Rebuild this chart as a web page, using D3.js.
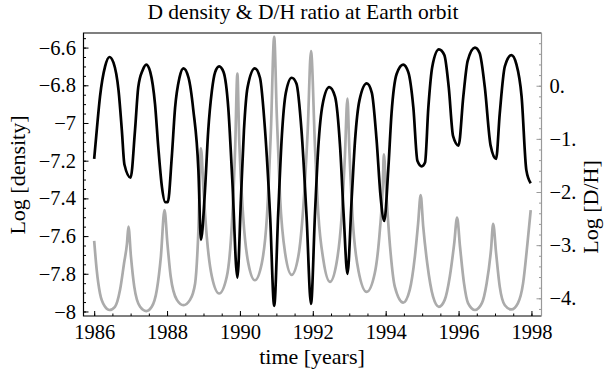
<!DOCTYPE html>
<html lang="en">
  <head>
    <meta charset="utf-8">
    <title>D density & D/H ratio</title>
    <script type="text/javascript" src="https://cdn.jsdelivr.net/npm/d3@7"></script>
    <style>
      body { margin: 0; background: #fff; }
      text { font-family: "Liberation Serif", "Times New Roman", serif; fill: #000; }
    </style>
  </head>
  <body>
    <script type="text/javascript">
    // values

    // black line: log D density vs time
    var densTime = [1986.00, 1986.07, 1986.16, 1986.30, 1986.42, 1986.53, 1986.67, 1986.76, 1986.83, 1987.00,
      1987.12, 1987.21, 1987.33, 1987.43, 1987.54, 1987.67, 1987.76, 1987.86, 1987.95, 1988.02,
      1988.13, 1988.22, 1988.34, 1988.45, 1988.59, 1988.72, 1988.86, 1988.93, 1989.04, 1989.13,
      1989.23, 1989.32, 1989.43, 1989.55, 1989.68, 1989.79, 1989.93, 1990.03, 1990.11, 1990.21,
      1990.41, 1990.55, 1990.69, 1990.83, 1990.94, 1991.05, 1991.15, 1991.26, 1991.42, 1991.55,
      1991.69, 1991.83, 1991.95, 1992.06, 1992.15, 1992.27, 1992.45, 1992.61, 1992.75, 1992.85,
      1992.95, 1993.07, 1993.16, 1993.28, 1993.48, 1993.62, 1993.75, 1993.86, 1993.96, 1994.07,
      1994.16, 1994.30, 1994.48, 1994.62, 1994.76, 1994.87, 1994.99, 1995.08, 1995.17, 1995.28,
      1995.46, 1995.61, 1995.73, 1995.85, 1996.00, 1996.13, 1996.25, 1996.45, 1996.58, 1996.72,
      1996.88, 1997.03, 1997.13, 1997.27, 1997.45, 1997.59, 1997.73, 1997.86, 1997.98];
    var densValue = [-7.19, -7.04, -6.86, -6.70, -6.65, -6.68, -6.83, -7.04, -7.22, -7.29,
      -7.04, -6.81, -6.72, -6.69, -6.73, -6.90, -7.13, -7.34, -7.42, -7.42,
      -7.18, -6.92, -6.76, -6.71, -6.76, -6.93, -7.25, -7.62, -7.36, -7.04,
      -6.83, -6.73, -6.70, -6.73, -6.92, -7.30, -7.82, -7.39, -7.04, -6.81,
      -6.71, -6.76, -7.04, -7.50, -7.97, -7.48, -7.07, -6.84, -6.76, -6.79,
      -7.04, -7.50, -7.96, -7.48, -7.13, -6.90, -6.81, -6.86, -7.13, -7.50,
      -7.80, -7.39, -7.09, -6.88, -6.79, -6.84, -7.09, -7.39, -7.52, -7.25,
      -6.95, -6.74, -6.69, -6.73, -6.92, -7.20, -7.23, -7.21, -6.92, -6.70,
      -6.61, -6.64, -6.81, -7.07, -7.12, -6.86, -6.67, -6.60, -6.63, -6.81,
      -7.12, -7.19, -6.95, -6.70, -6.64, -6.69, -6.86, -7.25, -7.32];

    // grey line: log D/H ratio vs time (right axis)
    var ratioTime = [1986.00, 1986.07, 1986.16, 1986.30, 1986.42, 1986.57, 1986.71, 1986.82, 1986.90, 1986.94,
      1987.01, 1987.10, 1987.26, 1987.43, 1987.58, 1987.72, 1987.83, 1987.93, 1988.01, 1988.10,
      1988.27, 1988.45, 1988.63, 1988.77, 1988.86, 1988.93, 1989.00, 1989.09, 1989.23, 1989.43,
      1989.64, 1989.78, 1989.87, 1989.93, 1989.98, 1990.09, 1990.23, 1990.41, 1990.60, 1990.74,
      1990.85, 1990.94, 1991.01, 1991.10, 1991.24, 1991.42, 1991.60, 1991.74, 1991.86, 1991.95,
      1992.06, 1992.15, 1992.29, 1992.47, 1992.65, 1992.79, 1992.88, 1992.95, 1993.00, 1993.09,
      1993.25, 1993.48, 1993.70, 1993.84, 1993.92, 1993.95, 1994.01, 1994.12, 1994.25, 1994.48,
      1994.66, 1994.80, 1994.89, 1994.96, 1995.03, 1995.14, 1995.30, 1995.46, 1995.62, 1995.76,
      1995.88, 1995.96, 1996.04, 1996.15, 1996.26, 1996.45, 1996.64, 1996.77, 1996.89, 1996.95,
      1997.03, 1997.13, 1997.27, 1997.45, 1997.63, 1997.77, 1997.89, 1997.98];
    var ratioValue = [-2.92, -3.47, -3.91, -4.16, -4.22, -4.16, -3.84, -3.34, -2.97, -2.65,
      -3.22, -3.78, -4.16, -4.24, -4.16, -3.84, -3.22, -2.34, -2.97, -3.59,
      -4.03, -4.13, -4.03, -3.72, -2.72, -1.18, -1.96, -2.84, -3.59, -3.91,
      -3.59, -2.59, -1.15, 0.23, -1.02, -2.47, -3.34, -3.66, -3.34, -2.47,
      -0.84, 0.92, -0.52, -2.09, -3.15, -3.56, -3.22, -2.28, -0.84, 0.65,
      -1.15, -2.40, -3.28, -3.69, -3.34, -2.47, -1.34, -0.24, -1.15, -2.47,
      -3.47, -3.88, -3.53, -2.72, -1.90, -1.29, -1.96, -3.03, -3.78, -4.08,
      -3.84, -3.22, -2.59, -2.06, -2.65, -3.34, -3.97, -4.16, -4.03, -3.59,
      -2.97, -2.48, -3.03, -3.72, -4.09, -4.22, -4.09, -3.72, -3.09, -2.60,
      -3.15, -3.78, -4.13, -4.21, -4.09, -3.72, -2.97, -2.34];

    // ticks
    var yearTicks = [1986, 1988, 1990, 1992, 1994, 1996, 1998];
    var densTicks = [-8, -7.8, -7.6, -7.4, -7.2, -7, -6.8, -6.6];
    var ratioTicks = [-4, -3, -2, -1, 0];

    var titleText = "D density & D/H ratio at Earth orbit";
    var xLabel = "time [years]";
    var yLabel = "Log [density]";
    var y2Label = "Log [D/H]";

    var w = 605;
    var h = 374;
    var padLeft = 83.5, padRight = 541.5, padTop = 33, padBottom = 316;

    var svg = d3.select("body")
                .append("svg")
                .attr("width", w)
                .attr("height", h);

    var x = d3.scaleLinear().domain([1985.707, 1998.276]).range([padLeft, padRight]);
    var y = d3.scaleLinear().domain([-8.024, -6.5226]).range([padBottom, padTop]);
    var y2 = d3.scaleLinear().domain([-4.333, 0.992]).range([padBottom, padTop]);

    // minor tick values (every half year, every 0.05 and every 0.2)
    var halfYears = d3.range(1986, 1998.01, 0.5);
    var densMinor = d3.range(-8, -6.52, 0.05).map(function(d) { return +d.toFixed(2); });
    var ratioMinor = d3.range(-4.2, 0.9, 0.2).map(function(d) { return +d.toFixed(1); });

    var fmtDens = function(d) {
      var s = (Math.round(d * 10) / 10).toString();
      return s.replace("-", "\u2212");
    };
    var fmtRatio = function(d) {
      return (d < 0 ? "\u2212" + (-d) : d) + ".";
    };

    // axes
    var styleAxis = function(g, colour) {
      g.select(".domain").remove();
      g.selectAll(".tick line").attr("stroke", colour);
      g.selectAll(".tick text").attr("font-size", 20.5).attr("fill", "#000");
    };

    svg.append("g").attr("transform", "translate(0," + padBottom + ")")
       .call(d3.axisBottom(x).tickValues(halfYears).tickSize(-2.5).tickFormat(""))
       .call(styleAxis, "#000");
    svg.append("g").attr("transform", "translate(0," + padBottom + ")")
       .call(d3.axisBottom(x).tickValues(yearTicks).tickSize(-5).tickPadding(8).tickFormat(d3.format("d")))
       .call(styleAxis, "#000");

    svg.append("g").attr("transform", "translate(" + padLeft + ",0)")
       .call(d3.axisLeft(y).tickValues(densMinor).tickSize(-2.5).tickFormat(""))
       .call(styleAxis, "#000");
    svg.append("g").attr("transform", "translate(" + padLeft + ",0)")
       .call(d3.axisLeft(y).tickValues(densTicks).tickSize(-5).tickPadding(7.5).tickFormat(fmtDens))
       .call(styleAxis, "#000");

    svg.append("g").attr("transform", "translate(" + padRight + ",0)")
       .call(d3.axisRight(y2).tickValues(ratioMinor).tickSize(-2.5).tickFormat(""))
       .call(styleAxis, "#999");
    svg.append("g").attr("transform", "translate(" + padRight + ",0)")
       .call(d3.axisRight(y2).tickValues(ratioTicks).tickSize(-5).tickPadding(8).tickFormat(fmtRatio))
       .call(styleAxis, "#999");

    // frame
    svg.append("path")
       .attr("d", "M" + padRight + "," + padTop + "H" + padLeft + "V" + padBottom + "H" + padRight)
       .attr("fill", "none").attr("stroke", "#000").attr("stroke-width", 1.2);
    svg.append("line")
       .attr("x1", padRight).attr("x2", padRight).attr("y1", padTop).attr("y2", padBottom)
       .attr("stroke", "#999").attr("stroke-width", 1.2);

    // lines
    var ratioLine = d3.line()
      .x(function(d, i) { return x(ratioTime[i]); })
      .y(function(d) { return y2(d); })
      .curve(d3.curveMonotoneX);
    var densLine = d3.line()
      .x(function(d, i) { return x(densTime[i]); })
      .y(function(d) { return y(d); })
      .curve(d3.curveMonotoneX);

    svg.append("path").datum(ratioValue)
       .attr("d", ratioLine)
       .attr("fill", "none").attr("stroke", "#ababab").attr("stroke-width", 2.7)
       .attr("stroke-linejoin", "round");
    svg.append("path").datum(densValue)
       .attr("d", densLine)
       .attr("fill", "none").attr("stroke", "#000").attr("stroke-width", 2.7)
       .attr("stroke-linejoin", "round");

    // labels
    svg.append("text").attr("x", 303).attr("y", 19)
       .attr("text-anchor", "middle").attr("font-size", 21.5).text(titleText);
    svg.append("text").attr("x", 312).attr("y", 364)
       .attr("text-anchor", "middle").attr("font-size", 22).text(xLabel);
    svg.append("text").attr("transform", "translate(25,175) rotate(-90)")
       .attr("text-anchor", "middle").attr("font-size", 22).text(yLabel);
    svg.append("text").attr("transform", "translate(598,207) rotate(-90)")
       .attr("text-anchor", "middle").attr("font-size", 22).text(y2Label);
    </script>
  </body>
</html>
